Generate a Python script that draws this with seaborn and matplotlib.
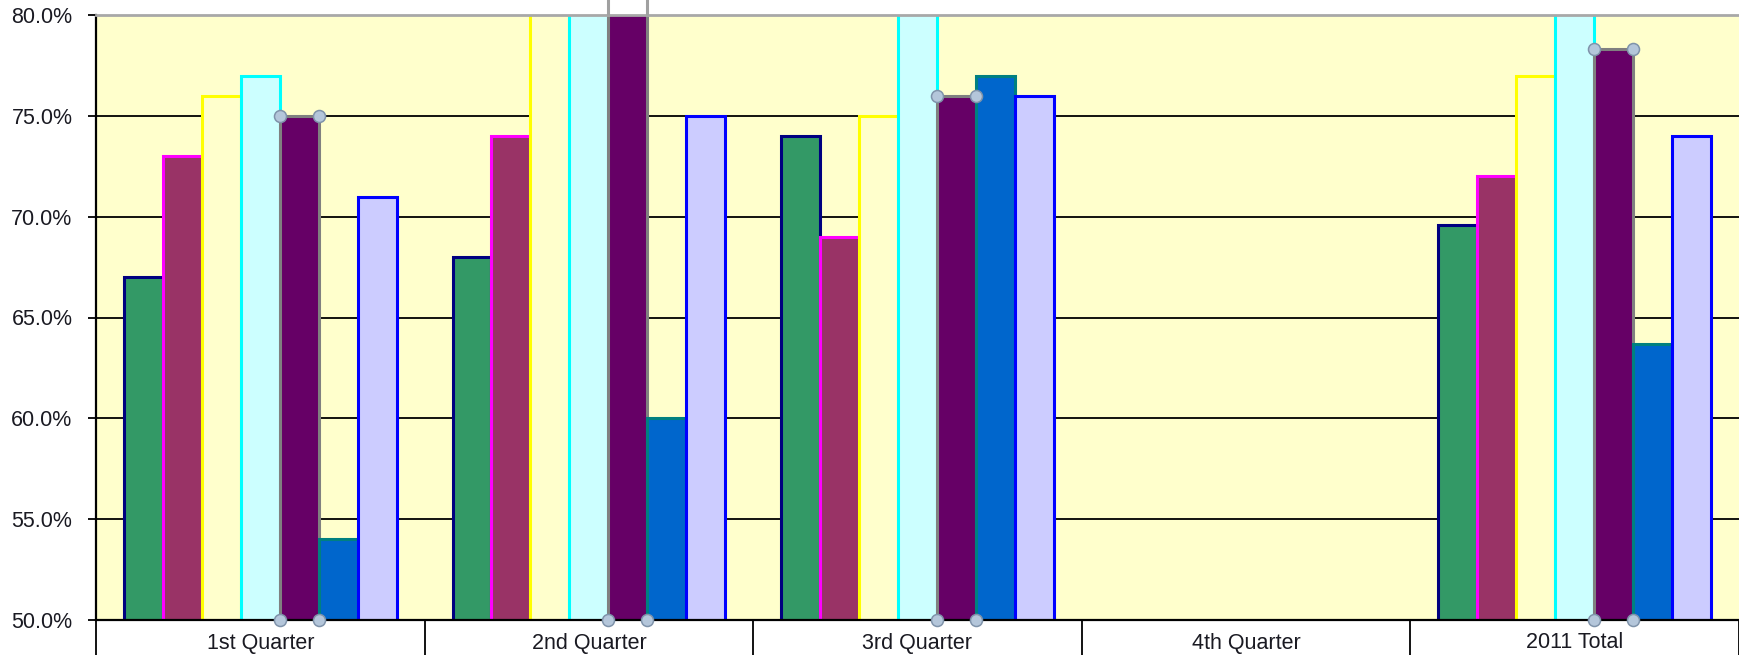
import matplotlib
matplotlib.use("Agg")
import matplotlib.pyplot as plt
import seaborn as sns
import pandas as pd
import numpy as np

# Quarterly percentages per series (NaN = no data for that period)
categories = ["1st Quarter", "2nd Quarter", "3rd Quarter", "4th Quarter", "2011 Total"]
series_names = ["S1", "S2", "S3", "S4", "S5", "S6", "S7"]
s1 = [67.0, 68.0, 74.0, np.nan, 69.6]
s2 = [73.0, 74.0, 69.0, np.nan, 72.0]
s3 = [76.0, 82.0, 75.0, np.nan, 77.0]
s4 = [77.0, 83.0, 81.5, np.nan, 81.0]
s5 = [75.0, 80.8, 76.0, np.nan, 78.3]
s6 = [54.0, 60.0, 77.0, np.nan, 63.7]
s7 = [71.0, 75.0, 76.0, np.nan, 74.0]
series_values = [s1, s2, s3, s4, s5, s6, s7]

fills = ["#339966", "#993366", "#FFFFCC", "#CCFFFF", "#660066", "#0066CC", "#CCCCFF"]
edges = ["#000080", "#FF00FF", "#FFFF00", "#00FFFF", "#808080", "#008080", "#0000FF"]

rows = []
for name, vals in zip(series_names, series_values):
    for cat, v in zip(categories, vals):
        rows.append({"period": cat, "series": name, "value": v})
df = pd.DataFrame(rows)

sns.set_style("white")
plt.rcParams["font.family"] = ["Liberation Sans", "DejaVu Sans"]

fig = plt.figure(figsize=(17.39, 6.55), dpi=100)
ax = fig.add_axes([96 / 1739, 1 - 620 / 655, 1 - 96 / 1739, (620 - 15) / 655])
ax.set_facecolor("#FFFFCC")

sns.barplot(data=df, x="period", y="value", hue="series", order=categories,
            hue_order=series_names, palette=fills, width=0.83, gap=0,
            saturation=1, legend=False, ax=ax, zorder=2)

for cont, ec in zip(ax.containers, edges):
    for bar in cont:
        bar.set_edgecolor(ec)
        bar.set_linewidth(2.2)

# selection outline on the fifth series
purple = ax.containers[4]
for bar in purple:
    h = bar.get_height()
    if not np.isfinite(h):
        continue
    x0 = bar.get_x()
    x1 = x0 + bar.get_width()
    if h > 80:
        ax.vlines([x0, x1], 80, h, colors="#A0A0A0", lw=2.2, clip_on=False, zorder=5)
    else:
        ax.scatter([x0, x1], [h, h], s=75, facecolor="#B4C6DA", edgecolor="#7F93AA",
                   linewidth=1.1, clip_on=False, zorder=6)
    ax.scatter([x0, x1], [50, 50], s=75, facecolor="#B4C6DA", edgecolor="#7F93AA",
               linewidth=1.1, clip_on=False, zorder=6)

ax.set_ylim(50, 80)
ax.set_xlim(-0.5, -0.5 + (1739 - 96) / 329.9)
ax.set_yticks(np.arange(50, 80.1, 5))
ax.set_yticklabels([f"{t:.1f}%" for t in np.arange(50, 80.1, 5)])
ax.yaxis.grid(True, color="black", lw=1.3)
ax.set_axisbelow(True)

ax.set_xlabel("")
ax.set_ylabel("")
ax.tick_params(axis="y", length=6, width=1.3, color="black", pad=11,
               labelsize=15.5, labelcolor="#1a1a22", left=True)
ax.set_xticks(range(len(categories)))
ax.set_xticklabels(categories)
ax.tick_params(axis="x", which="major", length=0, pad=9, labelsize=15.5,
               labelcolor="#1a1a22")
ax.set_xticks(np.arange(-0.5, 4.6, 1.0), minor=True)
ax.tick_params(axis="x", which="minor", length=27, width=1.3, color="black",
               bottom=True)

for side in ["left", "bottom"]:
    ax.spines[side].set_color("black")
    ax.spines[side].set_linewidth(1.6)
ax.spines["top"].set_color("#A8A8A8")
ax.spines["top"].set_linewidth(2)
ax.spines["right"].set_visible(False)

fig.savefig("out.png", dpi=100)
